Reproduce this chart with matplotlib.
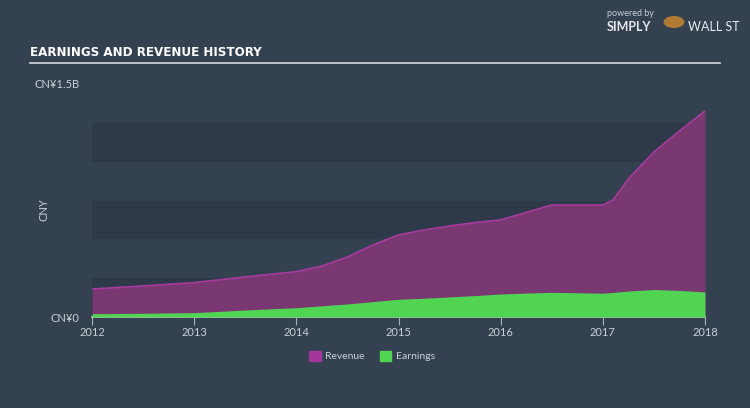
import matplotlib
matplotlib.use('Agg')
import matplotlib.pyplot as plt
from matplotlib.patches import Patch

# data (CNY millions)
years = [2012.0, 2012.5, 2013.0, 2013.5, 2014.0, 2014.25, 2014.5, 2014.75,
         2015.0, 2015.25, 2015.5, 2015.75, 2016.0, 2016.25, 2016.5, 2016.75,
         2017.0, 2017.1, 2017.25, 2017.5, 2017.75, 2018.0]
revenue = [180, 200, 221, 258, 292, 328, 386, 464,
           528, 560, 586, 608, 625, 673, 721, 721,
           721, 753, 889, 1062, 1198, 1326]
earnings = [21, 24, 28, 45, 60, 72, 84, 99,
            114, 121, 129, 138, 148, 154, 159, 156,
            153, 158, 167, 177, 171, 161]
xticks = [2012, 2013, 2014, 2015, 2016, 2017, 2018]

bg = '#344150'
band = '#2e3a49'
txt = '#c9ced4'
rev_fill = '#7a3873'
rev_line = '#a93b9f'
earn_col = '#52d453'

fig = plt.figure(figsize=(7.5, 4.08), dpi=100, facecolor=bg)
ax = fig.add_axes([92 / 750, 91 / 408, 613 / 750, 233 / 408])
ax.set_facecolor(bg)

# alternating bands
for lo in [0, 500, 1000]:
    ax.axhspan(lo, lo + 250, color=band, zorder=0, lw=0)

ax.fill_between(years, 0, revenue, color=rev_fill, lw=0, zorder=2)
ax.plot(years, revenue, color=rev_line, lw=1.2, zorder=3)
ax.fill_between(years, 0, earnings, color=earn_col, lw=0, zorder=4)

ax.set_xlim(2012, 2018)
ax.set_ylim(0, 1500)
ax.set_xticks(xticks)
ax.set_xticklabels([str(y) for y in xticks], color=txt, fontsize=8, family='Lato')
ax.tick_params(axis='x', colors='#aab2ba', length=6, width=0.8, pad=1, labelcolor=txt)
ax.set_yticks([0, 1500])
ax.set_yticklabels(['CN¥0', 'CN¥1.5B'], color=txt, fontsize=8, family='Lato')
ax.tick_params(axis='y', length=0, pad=9)
for s in ['top', 'right', 'left']:
    ax.spines[s].set_visible(False)
ax.spines['bottom'].set_color('#c3c9cf')
ax.spines['bottom'].set_linewidth(1.2)
ax.set_ylabel('CNY', color=txt, fontsize=8, family='Lato')
ax.yaxis.set_label_coords((49 - 92) / 613, (317 - 210) / 233)

# title and rule
fig.text(30 / 750, 1 - 53 / 408, 'EARNINGS AND REVENUE HISTORY', color='white',
         fontsize=9.5, fontweight='bold', family='DejaVu Sans', fontstretch='condensed',
         va='center')
fig.add_artist(plt.Line2D([30 / 750, 720 / 750], [1 - 63 / 408, 1 - 63 / 408],
                          color='#d5dade', lw=1.2))

# logo text
fig.text(607 / 750, 1 - 14 / 408, 'powered by', color='#c9ced4', fontsize=6.5,
         family='Lato', va='center')
fig.text(607 / 750, 1 - 27 / 408, 'SIMPLY', color='#e6e9ec', fontsize=9,
         fontweight='bold', family='Lato', va='center')
fig.text(688 / 750, 1 - 27 / 408, 'WALL ST', color='#e6e9ec', fontsize=9,
         family='Lato', va='center')
fig.patches.append(plt.Circle((674 / 750, 1 - 22 / 408), 0.013, color='#b07a35',
                              transform=fig.transFigure, figure=fig))

handles = [Patch(color='#a3379a', label='Revenue'), Patch(color=earn_col, label='Earnings')]
leg = fig.legend(handles=handles, loc='center', bbox_to_anchor=(372 / 750, 1 - 356 / 408),
                 ncol=2, frameon=False, fontsize=7.5, handlelength=1.1, handleheight=1.1,
                 columnspacing=1.5, handletextpad=0.4)
for t in leg.get_texts():
    t.set_color(txt)
    t.set_family('Lato')

fig.savefig('out.png', dpi=100, facecolor=bg)
